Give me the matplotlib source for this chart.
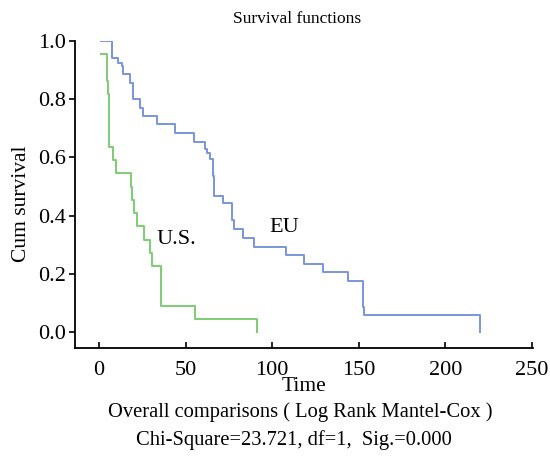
# Kaplan-Meier survival curves, EU vs U.S.

import matplotlib
matplotlib.use("Agg")
import matplotlib.pyplot as plt

plt.rcParams['font.family'] = ['Liberation Serif', 'DejaVu Serif']

# step points (time, cumulative survival)
eu_time = [1, 7.3, 11.1, 13.1, 14.0, 17.9, 19.8, 23.7, 25.6, 33.3, 43.6, 54.6,
           61.2, 62.5, 64.0, 65.6, 66.4, 71.4, 76.6, 77.9, 83.3, 89.4, 108.1,
           118.3, 129.4, 143.9, 152.1, 153.1, 220.2]
eu_surv = [1.0, 0.943, 0.926, 0.914, 0.886, 0.857, 0.800, 0.771, 0.743, 0.714,
           0.683, 0.653, 0.628, 0.616, 0.593, 0.536, 0.467, 0.443, 0.386, 0.354,
           0.323, 0.294, 0.266, 0.234, 0.206, 0.174, 0.087, 0.059, 0.0]

us_time = [1, 4.4, 5.0, 5.8, 8.3, 9.8, 18.3, 19.2, 20.4, 21.7, 26.1, 29.4,
           30.8, 35.8, 55.4, 91.0]
us_surv = [0.955, 0.864, 0.818, 0.636, 0.591, 0.545, 0.5, 0.455, 0.409, 0.364,
           0.318, 0.273, 0.227, 0.091, 0.045, 0.0]

xticks = [0, 50, 100, 150, 200, 250]
yticks = [0.0, 0.2, 0.4, 0.6, 0.8, 1.0]

fig = plt.figure(figsize=(5.5, 4.66), dpi=100)
ax = fig.add_axes([0.136, 0.253, 0.833, 0.659])

ax.plot(eu_time, eu_surv, drawstyle='steps-post', color='#7a95dc', lw=1.4)
ax.plot(us_time, us_surv, drawstyle='steps-post', color='#7ccc74', lw=1.4)

ax.text(106.7, 0.36, 'EU', fontsize=16, ha='center', va='center')
ax.text(44.5, 0.317, 'U.S.', fontsize=16, ha='center', va='center')

ax.set_xlim(-14, 250.5)
ax.set_ylim(-0.055, 1.0)
ax.set_xticks(xticks)
ax.set_yticks(yticks)
ax.set_yticklabels(['%.1f' % v for v in yticks])
ax.tick_params(axis='x', direction='in', length=4, width=1.2, labelsize=16, pad=9)
ax.tick_params(axis='y', direction='out', length=4, width=1.2, labelsize=16, pad=2)
for s in ['top', 'right']:
    ax.spines[s].set_visible(False)
for s in ['left', 'bottom']:
    ax.spines[s].set_linewidth(1.3)

ax.set_xlabel('Time', fontsize=15.5, labelpad=-2)
ax.set_ylabel('Cum survival', fontsize=15.5)
ax.yaxis.set_label_coords(-0.095, 0.47)

fig.text(0.54, 0.96, 'Survival functions', fontsize=12.5, ha='center', va='center')
fig.text(0.545, 0.116, 'Overall comparisons ( Log Rank Mantel-Cox )', fontsize=14.8,
         ha='center', va='center')
fig.text(0.535, 0.056, 'Chi-Square=23.721, df=1,  Sig.=0.000', fontsize=14.8,
         ha='center', va='center')

fig.savefig('out.png', dpi=100)
